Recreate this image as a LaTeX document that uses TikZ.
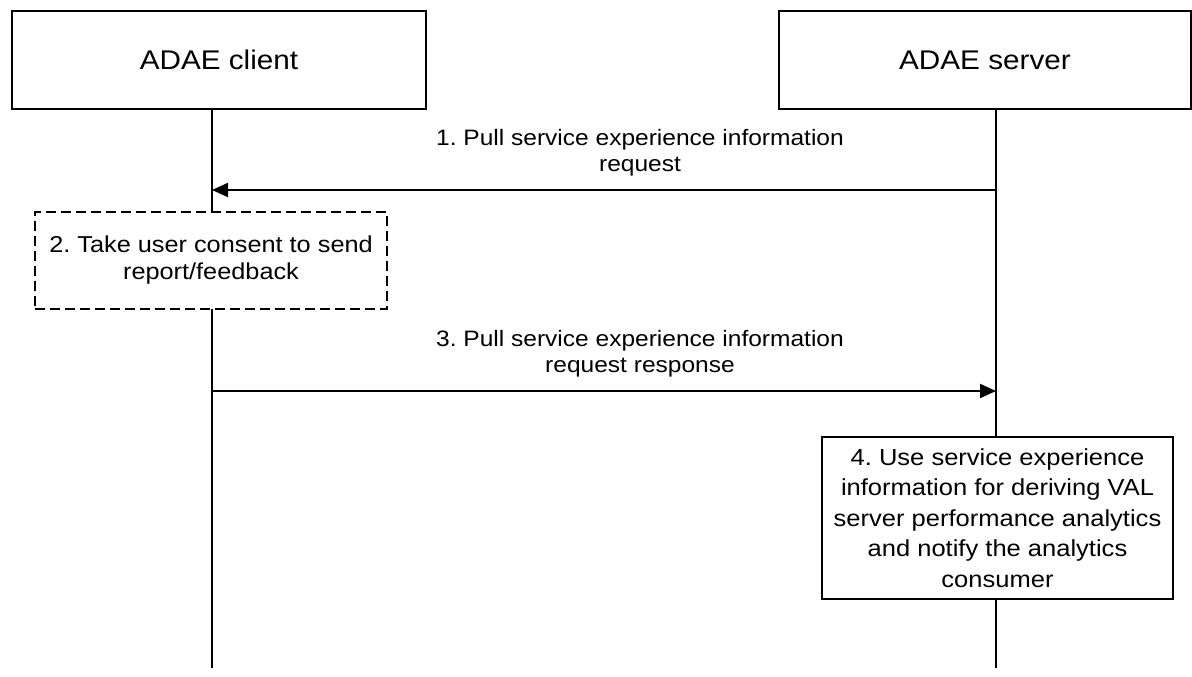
\documentclass[tikz,border=0pt]{standalone}
\usepackage{fontspec}
\setmainfont[FakeStretch=1.1]{Liberation Sans}
\usetikzlibrary{arrows.meta}
\begin{document}
\frenchspacing
\begin{tikzpicture}[x=1bp,y=-1bp,
  actorbox/.style={draw,line width=1.5bp,fill=white,minimum width=414bp,minimum height=98bp,inner sep=0pt,font=\fontsize{27bp}{31bp}\selectfont},
  lifeline/.style={line width=2bp},
  msg/.style={line width=2bp,-{Triangle[length=16bp,width=14bp]}},
  msglabel/.style={align=center,inner sep=0pt,font=\fontsize{22.3bp}{26bp}\selectfont},
  dashbox/.style={draw,line width=1.5bp,dash pattern=on 10bp off 5bp,fill=white,minimum width=352bp,minimum height=97bp,inner sep=0pt,align=center,font=\fontsize{23bp}{27bp}\selectfont},
  actbox/.style={draw,line width=1.5bp,fill=white,minimum width=351bp,minimum height=162bp,inner sep=0pt,align=center,font=\fontsize{23.2bp}{30.5bp}\selectfont}
]
\useasboundingbox (0,0) rectangle (1192,677);
\fill[white] (0,0) rectangle (1192,677);

\node[actorbox] (client) at (219,60) {ADAE client};
\node[actorbox,minimum width=412bp] (server) at (985,60) {ADAE server};

\coordinate (ctop) at (212,109);
\coordinate (cend) at (212,668);
\coordinate (stop) at (996,109);
\coordinate (send) at (996,668);

\draw[lifeline] (ctop) -- (cend);
\draw[lifeline] (stop) -- (send);

% step 1
\coordinate (s1) at (996,190);
\coordinate (c1) at (212,190);
\draw[msg] (s1) -- (c1);
\node[msglabel] (l1) at (640,153) {1. Pull service experience information\\request};

% step 2
\node[dashbox] (b2) at (211,260.5) {2. Take user consent to send\\report/feedback};

% step 3
\coordinate (c3) at (212,391);
\coordinate (s3) at (996,391);
\draw[msg] (c3) -- (s3);
\node[msglabel] (l3) at (640,354) {3. Pull service experience information\\request response};

% step 4
\node[actbox] (b4) at (997.5,518) {4. Use service experience\\information for deriving VAL\\server performance analytics\\and notify the analytics\\consumer};
\end{tikzpicture}
\end{document}
